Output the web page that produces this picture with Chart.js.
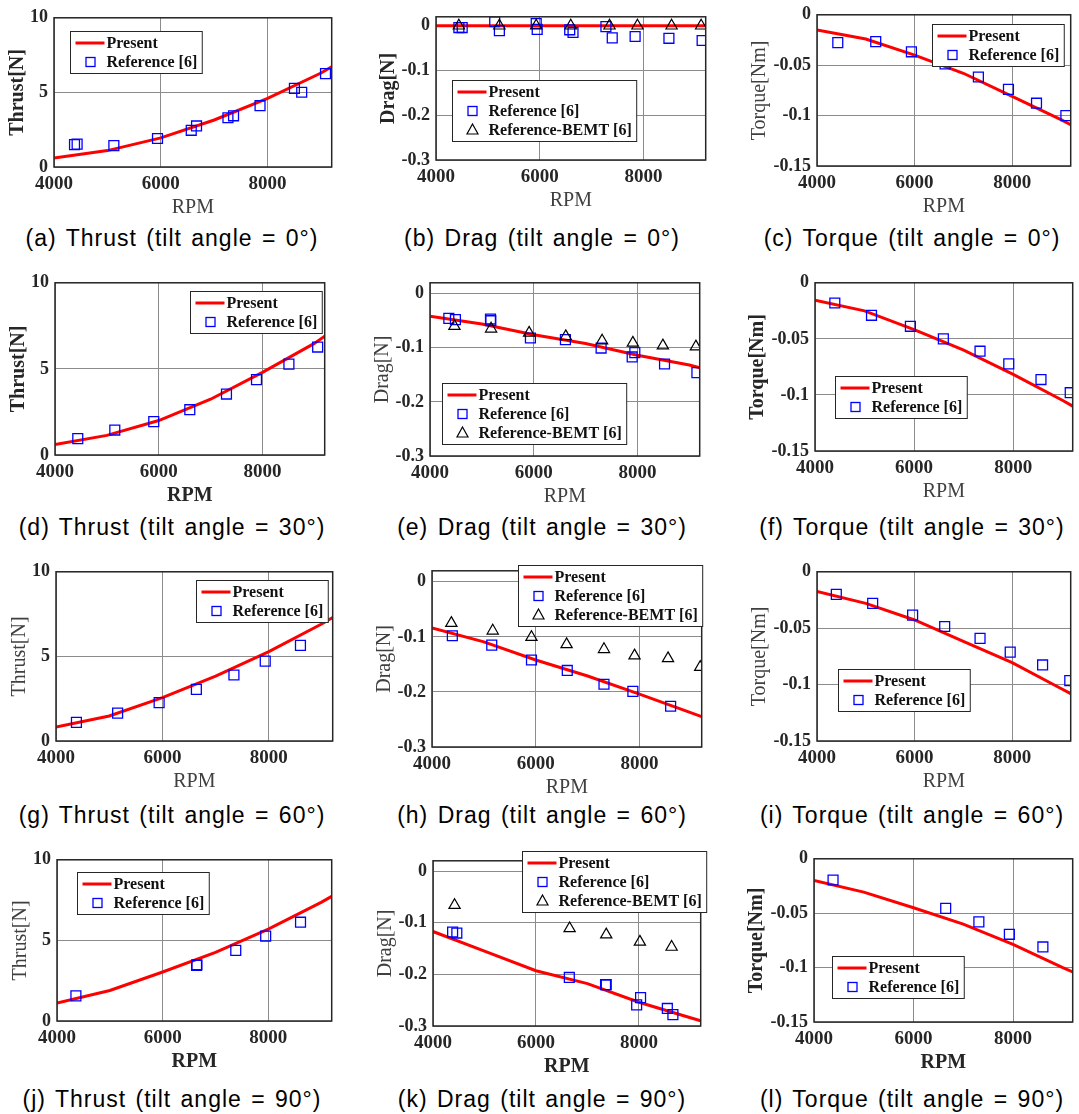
<!DOCTYPE html>
<html><head><meta charset="utf-8">
<script src="https://cdn.jsdelivr.net/npm/chart.js@4.4.1/dist/chart.umd.min.js"></script>
<style>
html,body{margin:0;padding:0;background:#fff;}
body{width:1079px;height:1114px;overflow:hidden;position:relative;}
canvas{position:absolute;}
.cap{position:absolute;font-family:"Liberation Sans",Arial,sans-serif;font-size:23px;letter-spacing:1px;word-spacing:2px;color:#000;white-space:nowrap;transform:translate(-50%,-50%);line-height:1.2;}
</style></head><body>
<script>
// ---------- tick values ----------
const rpmTicks = [4000, 6000, 8000];
const thrustTicks = [0, 5, 10];
const dragTicks = [-0.3, -0.2, -0.1, 0];
const torqueTicks = [-0.15, -0.1, -0.05, 0];

// ---------- Present (computed) curves ----------
const presentRpm = [4000, 5000, 6000, 7000, 8000, 9000, 9200];
const thrust0Present  = [0.60, 1.10, 1.95, 3.15, 4.60, 6.30, 6.72];
const drag0Present    = [0, 0, 0, 0, 0, 0, 0];
const torque0Present  = [-0.015, -0.024, -0.040, -0.058, -0.081, -0.104, -0.109];
const thrust30Present = [0.61, 1.14, 2.00, 3.24, 4.80, 6.48, 6.90];
const drag30Present   = [-0.042, -0.056, -0.076, -0.092, -0.114, -0.132, -0.137];
const torque30Present = [-0.0155, -0.025, -0.0417, -0.060, -0.0816, -0.105, -0.110];
const thrust60Present = [0.82, 1.48, 2.56, 3.83, 5.28, 6.93, 7.30];
const drag60Present   = [-0.084, -0.109, -0.142, -0.171, -0.204, -0.238, -0.245];
const torque60Present = [-0.0174, -0.028, -0.0427, -0.0616, -0.0805, -0.1035, -0.108];
const thrust90Present = [1.12, 1.89, 3.04, 4.26, 5.70, 7.36, 7.73];
const drag90Present   = [-0.117, -0.155, -0.193, -0.218, -0.254, -0.284, -0.290];
const torque90Present = [-0.020, -0.0306, -0.045, -0.060, -0.0787, -0.100, -0.104];

// ---------- Reference [6] ----------
const thrust0RefRpm = [4384, 4433, 5121, 5938, 6570, 6669, 7257, 7362, 7858, 8502, 8638, 9084];
const thrust0Ref    = [1.50, 1.53, 1.43, 1.91, 2.46, 2.75, 3.30, 3.43, 4.11, 5.27, 5.01, 6.26];
const drag0RefRpm = [4441, 4505, 5132, 5222, 5932, 5951, 6578, 6642, 7276, 7398, 7839, 8491, 9131];
const drag0Ref    = [-0.004, -0.004, 0.009, -0.011, 0.005, -0.008, -0.009, -0.015, -0.002, -0.027, -0.024, -0.028, -0.033];
const torque0RefRpm = [4426, 5204, 5935, 6625, 7308, 7924, 8499, 9101];
const torque0Ref    = [-0.0276, -0.0266, -0.0367, -0.0487, -0.0617, -0.074, -0.0877, -0.100];
const thrust30RefRpm = [4439, 5153, 5904, 6599, 7306, 7885, 8510, 9064];
const thrust30Ref    = [0.95, 1.45, 1.94, 2.63, 3.54, 4.38, 5.28, 6.27];
const drag30RefRpm = [4363, 4490, 5166, 5172, 5936, 6611, 7299, 7898, 7949, 8522, 9146];
const drag30Ref    = [-0.0457, -0.048, -0.047, -0.050, -0.082, -0.085, -0.1006, -0.117, -0.109, -0.130, -0.146];
const torque30RefRpm = [4400, 5140, 5925, 6590, 7330, 7910, 8560, 9150];
const torque30Ref    = [-0.018, -0.029, -0.0388, -0.050, -0.061, -0.0723, -0.0863, -0.098];
const thrust60RefRpm = [4384, 5158, 5938, 6638, 7344, 7932, 8594];
const thrust60Ref    = [1.10, 1.65, 2.27, 3.05, 3.90, 4.72, 5.65];
const drag60RefRpm = [4392, 5152, 5918, 6608, 7316, 7873, 8601];
const drag60Ref    = [-0.098, -0.115, -0.142, -0.161, -0.186, -0.199, -0.226];
const torque60RefRpm = [4396, 5141, 5960, 6617, 7342, 7960, 8624, 9181];
const torque60Ref    = [-0.020, -0.028, -0.0384, -0.0485, -0.059, -0.0712, -0.0826, -0.0965];
const thrust90RefRpm = [4358, 6642, 6648, 7384, 7950, 8610];
const thrust90Ref    = [1.56, 3.45, 3.49, 4.38, 5.27, 6.13];
const drag90RefRpm = [4381, 4463, 6648, 7352, 7365, 7956, 8032, 8552, 8660];
const drag90Ref    = [-0.118, -0.120, -0.206, -0.220, -0.220, -0.259, -0.245, -0.266, -0.278];
const torque90RefRpm = [4383, 6647, 7314, 7927, 8601];
const torque90Ref    = [-0.0195, -0.0456, -0.058, -0.0694, -0.081];

// ---------- Reference-BEMT [6] ----------
const drag0BemtRpm = [4441, 5222, 5932, 6598, 7346, 7884, 8542, 9112];
const drag0Bemt    = [0, 0, 0, 0, 0, 0, 0, 0];
const drag30BemtRpm = [4471, 5178, 5911, 6618, 7318, 7911, 8490, 9127];
const drag30Bemt    = [-0.060, -0.065, -0.0726, -0.079, -0.087, -0.091, -0.096, -0.098];
const drag60BemtRpm = [4373, 5171, 5918, 6595, 7316, 7905, 8551, 9171];
const drag60Bemt    = [-0.075, -0.089, -0.1006, -0.1137, -0.1226, -0.134, -0.139, -0.155];
const drag90BemtRpm = [4419, 6654, 7365, 8019, 8635];
const drag90Bemt    = [-0.066, -0.111, -0.123, -0.137, -0.147];

// ---------- labels ----------
const seriesNames = ['Present', 'Reference [6]', 'Reference-BEMT [6]'];
const captions = [
  '(a) Thrust (tilt angle = 0°)', '(b) Drag (tilt angle = 0°)', '(c) Torque (tilt angle = 0°)',
  '(d) Thrust (tilt angle = 30°)', '(e) Drag (tilt angle = 30°)', '(f) Torque (tilt angle = 30°)',
  '(g) Thrust (tilt angle = 60°)', '(h) Drag (tilt angle = 60°)', '(i) Torque (tilt angle = 60°)',
  '(j) Thrust (tilt angle = 90°)', '(k) Drag (tilt angle = 90°)', '(l) Torque (tilt angle = 90°)'
];

// ---------- build ----------
const pts = (xs, ys) => xs.map((x, i) => ({x, y: ys[i]}));
const kinds = {
  thrust: {title: 'Thrust[N]', ticks: thrustTicks, min: 0, max: 10},
  drag:   {title: 'Drag[N]', ticks: dragTicks, min: -0.3, max: 0.02},
  torque: {title: 'Torque[Nm]', ticks: torqueTicks, min: -0.15, max: 0}
};
const panels = [
  {k:'thrust', p:thrust0Present, rx:thrust0RefRpm, r:thrust0Ref, plot:[54,15,334,167], leg:[70,28], yb:true, xb:false},
  {k:'drag', p:drag0Present, rx:drag0RefRpm, r:drag0Ref, bx:drag0BemtRpm, b:drag0Bemt, plot:[436,14,708,160], leg:[452,77], yb:true, xb:false},
  {k:'torque', p:torque0Present, rx:torque0RefRpm, r:torque0Ref, plot:[817,12,1073,166], leg:[932,21], yb:false, xb:false},
  {k:'thrust', p:thrust30Present, rx:thrust30RefRpm, r:thrust30Ref, plot:[55,280,327,455], leg:[190,288], yb:true, xb:true},
  {k:'drag', p:drag30Present, rx:drag30RefRpm, r:drag30Ref, bx:drag30BemtRpm, b:drag30Bemt, plot:[430,280,702,456], leg:[442,380], yb:false, xb:false},
  {k:'torque', p:torque30Present, rx:torque30RefRpm, r:torque30Ref, plot:[815,280,1075,451], leg:[835,373], yb:true, xb:false},
  {k:'thrust', p:thrust60Present, rx:thrust60RefRpm, r:thrust60Ref, plot:[56,569,335,741], leg:[196,577], yb:false, xb:false},
  {k:'drag', p:drag60Present, rx:drag60RefRpm, r:drag60Ref, bx:drag60BemtRpm, b:drag60Bemt, plot:[432,568,704,747], leg:[518,562], yb:false, xb:false},
  {k:'torque', p:torque60Present, rx:torque60RefRpm, r:torque60Ref, plot:[817,569,1073,741], leg:[838,666], yb:false, xb:false},
  {k:'thrust', p:thrust90Present, rx:thrust90RefRpm, r:thrust90Ref, plot:[57,857,334,1021], leg:[77,869], yb:false, xb:true},
  {k:'drag', p:drag90Present, rx:drag90RefRpm, r:drag90Ref, bx:drag90BemtRpm, b:drag90Bemt, plot:[433,858,703,1026], leg:[522,848], yb:false, xb:true},
  {k:'torque', p:torque90Present, rx:torque90RefRpm, r:torque90Ref, plot:[814,856,1075,1022], leg:[832,953], yb:true, xb:true}
];
const capCenterX = [172, 542, 912];
const capCenterY = [239, 528, 816, 1100];
const colYW = [54, 70, 76];
const colTitleDist = [36, 47, 57];

const SERIF = '"Liberation Serif","Times New Roman",serif';
const PT = 14, PR = 6, XH = 55;

const frameBox = {
  id: 'frameBox',
  afterDatasetsDraw(chart) {
    const {ctx, chartArea: a} = chart;
    ctx.save();
    ctx.strokeStyle = '#262626';
    ctx.lineWidth = 1.5;
    ctx.strokeRect(a.left, a.top, a.right - a.left, a.bottom - a.top);
    ctx.restore();
  }
};
const boxLegend = {
  id: 'boxLegend',
  afterDraw(chart, args, opts) {
    const {ctx, chartArea: a} = chart;
    const ds = chart.data.datasets;
    ctx.save();
    ctx.font = 'bold 16px ' + SERIF;
    let mw = 0;
    ds.forEach(d => { mw = Math.max(mw, ctx.measureText(d.label).width); });
    const w = 36 + mw + 5, h = ds.length * 19 + 4;
    const x0 = Math.round(a.left + opts.dx) + 0.5, y0 = Math.round(a.top + opts.dy) + 0.5;
    ctx.fillStyle = '#fff';
    ctx.fillRect(x0, y0, w, h);
    ctx.strokeStyle = '#262626';
    ctx.lineWidth = 1;
    ctx.strokeRect(x0, y0, w, h);
    ds.forEach((d, i) => {
      const cy = y0 + 11.5 + i * 19;
      const cx = x0 + 20;
      if (d.showLine) {
        ctx.strokeStyle = d.borderColor; ctx.lineWidth = 3;
        ctx.beginPath(); ctx.moveTo(x0 + 5, cy); ctx.lineTo(x0 + 34, cy); ctx.stroke();
      } else if (d.pointStyle === 'rect') {
        ctx.strokeStyle = d.borderColor; ctx.lineWidth = 1.3;
        ctx.strokeRect(cx - 4.5, cy - 4.5, 9, 9);
      } else {
        ctx.strokeStyle = d.borderColor; ctx.lineWidth = 1.2;
        ctx.beginPath(); ctx.moveTo(cx, cy - 6); ctx.lineTo(cx + 5.5, cy + 4); ctx.lineTo(cx - 5.5, cy + 4); ctx.closePath(); ctx.stroke();
      }
      ctx.fillStyle = '#111';
      ctx.textBaseline = 'middle';
      ctx.textAlign = 'left';
      ctx.fillText(d.label, x0 + 36, cy + 1);
    });
    ctx.restore();
  }
};

panels.forEach((P, idx) => {
  const col = idx % 3, row = Math.floor(idx / 3);
  const [L, T, R, B] = P.plot;
  const YW = colYW[col];
  const kind = kinds[P.k];
  const cv = document.createElement('canvas');
  const W = YW + (R - L) + PR, H = PT + (B - T) + XH;
  cv.width = W; cv.height = H;
  cv.style.left = (L - YW) + 'px'; cv.style.top = (T - PT) + 'px';
  cv.style.width = W + 'px'; cv.style.height = H + 'px';
  document.body.appendChild(cv);

  const datasets = [
    {label: seriesNames[0], data: pts(presentRpm, P.p), showLine: true, borderColor: '#ff0000', borderWidth: 3, pointRadius: 0, tension: 0, fill: false, order: 2},
    {label: seriesNames[1], data: pts(P.rx, P.r), showLine: false, pointStyle: 'rect', pointRadius: 7, pointBorderWidth: 1.3, borderColor: '#0000ff', pointBorderColor: '#0000ff', pointBackgroundColor: 'rgba(0,0,0,0)', backgroundColor: 'rgba(0,0,0,0)', order: 1}
  ];
  if (P.bx) datasets.push({label: seriesNames[2], data: pts(P.bx, P.b), showLine: false, pointStyle: 'triangle', pointRadius: 6.5, pointBorderWidth: 1.2, borderColor: '#000000', pointBorderColor: '#000000', pointBackgroundColor: 'rgba(0,0,0,0)', backgroundColor: 'rgba(0,0,0,0)', order: 0});

  const yFont = 20, xFont = 20;
  const yPadTop = (YW - colTitleDist[col]) - yFont * 1.2 / 2;
  const xPadBottom = XH - 41 - xFont * 1.2 / 2;

  new Chart(cv, {
    type: 'scatter',
    data: {datasets},
    options: {
      responsive: false, maintainAspectRatio: false, animation: false, devicePixelRatio: 1,
      layout: {padding: {left: 0, top: PT, right: PR, bottom: 0}},
      plugins: {legend: {display: false}, tooltip: {enabled: false}, boxLegend: {dx: P.leg[0] - L, dy: P.leg[1] - T}},
      scales: {
        x: {
          type: 'linear', min: 4000, max: 9200,
          afterBuildTicks: s => { s.ticks = rpmTicks.map(v => ({value: v})); },
          afterFit: s => { s.height = XH; },
          grid: {color: '#8c8c8c', lineWidth: 1, drawTicks: false},
          border: {display: false},
          ticks: {padding: 6, color: '#262626', font: {family: SERIF, size: 19, weight: 'bold'}, callback: v => String(v), maxRotation: 0, autoSkip: false},
          title: {display: true, text: 'RPM', color: P.xb ? '#262626' : '#404040', font: {family: SERIF, size: xFont, weight: P.xb ? 'bold' : 'normal'}, padding: {top: 0, bottom: xPadBottom}}
        },
        y: {
          type: 'linear', min: kind.min, max: kind.max,
          afterBuildTicks: s => { s.ticks = kind.ticks.map(v => ({value: v})); },
          afterFit: s => { s.width = YW; },
          grid: {color: '#8c8c8c', lineWidth: 1, drawTicks: false},
          border: {display: false},
          ticks: {padding: 6, color: '#262626', font: {family: SERIF, size: 18, weight: 'bold'}, callback: v => String(v), autoSkip: false},
          title: {display: true, text: kind.title, color: P.yb ? '#262626' : '#404040', font: {family: SERIF, size: yFont, weight: P.yb ? 'bold' : 'normal'}, padding: {top: yPadTop, bottom: 0}}
        }
      }
    },
    plugins: [frameBox, boxLegend]
  });

  const cap = document.createElement('div');
  cap.className = 'cap';
  cap.textContent = captions[idx];
  cap.style.left = capCenterX[col] + 'px';
  cap.style.top = capCenterY[row] + 'px';
  document.body.appendChild(cap);
});
</script>
</body></html>
